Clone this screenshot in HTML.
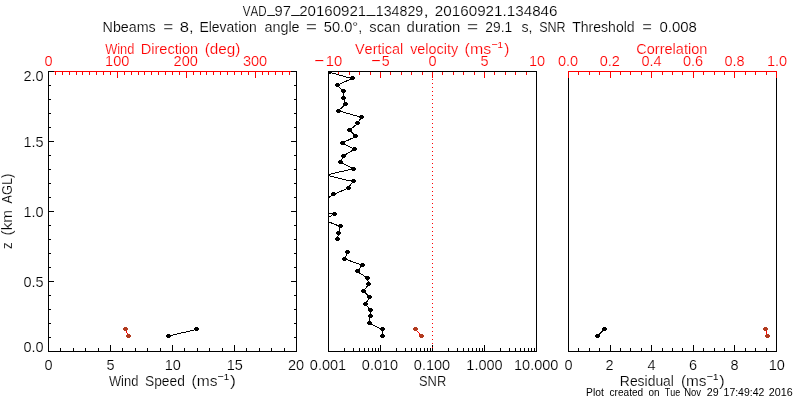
<!DOCTYPE html>
<html lang="en"><head><meta charset="utf-8"><title>VAD_97_20160921_134829</title>
<style>
html,body{margin:0;padding:0;background:#fff;}
body{width:800px;height:400px;overflow:hidden;}
svg{display:block;}
text{font-family:"Liberation Sans",sans-serif;font-size:14.5px;font-kerning:none;white-space:pre;stroke:#fff;stroke-width:0.18px;}
.k{fill:#000;} .r{fill:#f00;}
.s{font-size:10.2px;stroke:none;} .u{font-size:9.8px;stroke:none;}
.ln{shape-rendering:crispEdges;fill:none;stroke-width:1;}
.px{shape-rendering:crispEdges;}
</style></head><body>
<svg width="800" height="400" viewBox="0 0 800 400">
<rect x="0" y="0" width="800" height="400" fill="#fff"/>
<path class="px" fill="#000000" d="M48 351h249v1h-249zM48 71h1v281h-1zM296 71h1v281h-1zM48 71h249v1h-249zM48 345h1v7h-1zM60 348h1v4h-1zM73 348h1v4h-1zM85 348h1v4h-1zM98 348h1v4h-1zM110 345h1v7h-1zM122 348h1v4h-1zM135 348h1v4h-1zM147 348h1v4h-1zM160 348h1v4h-1zM172 345h1v7h-1zM184 348h1v4h-1zM197 348h1v4h-1zM209 348h1v4h-1zM222 348h1v4h-1zM234 345h1v7h-1zM246 348h1v4h-1zM259 348h1v4h-1zM271 348h1v4h-1zM284 348h1v4h-1zM296 345h1v7h-1z"/>
<path class="px" fill="#ff0000" d="M48 71h249v1h-249zM48 71h1v7h-1zM55 71h1v4h-1zM62 71h1v4h-1zM69 71h1v4h-1zM76 71h1v4h-1zM82 71h1v4h-1zM89 71h1v4h-1zM96 71h1v4h-1zM103 71h1v4h-1zM110 71h1v4h-1zM117 71h1v7h-1zM124 71h1v4h-1zM131 71h1v4h-1zM138 71h1v4h-1zM144 71h1v4h-1zM151 71h1v4h-1zM158 71h1v4h-1zM165 71h1v4h-1zM172 71h1v4h-1zM179 71h1v4h-1zM186 71h1v7h-1zM193 71h1v4h-1zM200 71h1v4h-1zM206 71h1v4h-1zM213 71h1v4h-1zM220 71h1v4h-1zM227 71h1v4h-1zM234 71h1v4h-1zM241 71h1v4h-1zM248 71h1v4h-1zM255 71h1v7h-1zM262 71h1v4h-1zM268 71h1v4h-1zM275 71h1v4h-1zM282 71h1v4h-1zM289 71h1v4h-1zM296 71h1v4h-1z"/>
<path class="px" fill="#000000" d="M48 351h6v1h-6zM291 351h6v1h-6zM48 337h3v1h-3zM294 337h3v1h-3zM48 323h3v1h-3zM294 323h3v1h-3zM48 309h3v1h-3zM294 309h3v1h-3zM48 295h3v1h-3zM294 295h3v1h-3zM48 281h6v1h-6zM291 281h6v1h-6zM48 267h3v1h-3zM294 267h3v1h-3zM48 253h3v1h-3zM294 253h3v1h-3zM48 239h3v1h-3zM294 239h3v1h-3zM48 225h3v1h-3zM294 225h3v1h-3zM48 211h6v1h-6zM291 211h6v1h-6zM48 197h3v1h-3zM294 197h3v1h-3zM48 183h3v1h-3zM294 183h3v1h-3zM48 169h3v1h-3zM294 169h3v1h-3zM48 155h3v1h-3zM294 155h3v1h-3zM48 141h6v1h-6zM291 141h6v1h-6zM48 127h3v1h-3zM294 127h3v1h-3zM48 113h3v1h-3zM294 113h3v1h-3zM48 99h3v1h-3zM294 99h3v1h-3zM48 85h3v1h-3zM294 85h3v1h-3zM48 71h6v1h-6zM291 71h6v1h-6zM48 71h1v281h-1zM296 71h1v281h-1z"/>
<path class="px" fill="#ff0000" d="M328 71h1v7h-1zM338 71h1v4h-1zM349 71h1v4h-1zM359 71h1v4h-1zM370 71h1v4h-1zM380 71h1v7h-1zM390 71h1v4h-1zM401 71h1v4h-1zM411 71h1v4h-1zM422 71h1v4h-1zM432 71h1v7h-1zM442 71h1v4h-1zM453 71h1v4h-1zM463 71h1v4h-1zM474 71h1v4h-1zM484 71h1v7h-1zM494 71h1v4h-1zM505 71h1v4h-1zM515 71h1v4h-1zM526 71h1v4h-1zM536 71h1v7h-1z"/>
<path class="px" fill="#000000" d="M328 351h209v1h-209zM328 71h1v281h-1zM536 71h1v281h-1zM328 71h209v1h-209zM328 345h1v7h-1zM344 348h1v4h-1zM353 348h1v4h-1zM359 348h1v4h-1zM364 348h1v4h-1zM368 348h1v4h-1zM372 348h1v4h-1zM375 348h1v4h-1zM378 348h1v4h-1zM380 345h1v7h-1zM396 348h1v4h-1zM405 348h1v4h-1zM411 348h1v4h-1zM416 348h1v4h-1zM420 348h1v4h-1zM424 348h1v4h-1zM427 348h1v4h-1zM430 348h1v4h-1zM432 345h1v7h-1zM448 348h1v4h-1zM457 348h1v4h-1zM463 348h1v4h-1zM468 348h1v4h-1zM472 348h1v4h-1zM476 348h1v4h-1zM479 348h1v4h-1zM482 348h1v4h-1zM484 345h1v7h-1zM500 348h1v4h-1zM509 348h1v4h-1zM515 348h1v4h-1zM520 348h1v4h-1zM524 348h1v4h-1zM528 348h1v4h-1zM531 348h1v4h-1zM534 348h1v4h-1zM536 345h1v7h-1z"/>
<path class="px" fill="#ff0000" d="M432 79h1v1h-1zM432 83h1v1h-1zM432 87h1v1h-1zM432 91h1v1h-1zM432 95h1v1h-1zM432 99h1v1h-1zM432 103h1v1h-1zM432 107h1v1h-1zM432 111h1v1h-1zM432 115h1v1h-1zM432 119h1v1h-1zM432 123h1v1h-1zM432 127h1v1h-1zM432 131h1v1h-1zM432 135h1v1h-1zM432 139h1v1h-1zM432 143h1v1h-1zM432 147h1v1h-1zM432 151h1v1h-1zM432 155h1v1h-1zM432 159h1v1h-1zM432 163h1v1h-1zM432 167h1v1h-1zM432 171h1v1h-1zM432 175h1v1h-1zM432 179h1v1h-1zM432 183h1v1h-1zM432 187h1v1h-1zM432 191h1v1h-1zM432 195h1v1h-1zM432 199h1v1h-1zM432 203h1v1h-1zM432 207h1v1h-1zM432 211h1v1h-1zM432 215h1v1h-1zM432 219h1v1h-1zM432 223h1v1h-1zM432 227h1v1h-1zM432 231h1v1h-1zM432 235h1v1h-1zM432 239h1v1h-1zM432 243h1v1h-1zM432 247h1v1h-1zM432 251h1v1h-1zM432 255h1v1h-1zM432 259h1v1h-1zM432 263h1v1h-1zM432 267h1v1h-1zM432 271h1v1h-1zM432 275h1v1h-1zM432 279h1v1h-1zM432 283h1v1h-1zM432 287h1v1h-1zM432 291h1v1h-1zM432 295h1v1h-1zM432 299h1v1h-1zM432 303h1v1h-1zM432 307h1v1h-1zM432 311h1v1h-1zM432 315h1v1h-1zM432 319h1v1h-1zM432 323h1v1h-1zM432 327h1v1h-1zM432 331h1v1h-1zM432 335h1v1h-1zM432 339h1v1h-1zM432 343h1v1h-1zM432 347h1v1h-1z"/>
<path class="px" fill="#000000" d="M568 351h209v1h-209zM568 71h1v281h-1zM776 71h1v281h-1zM568 345h1v7h-1zM578 348h1v4h-1zM589 348h1v4h-1zM599 348h1v4h-1zM610 345h1v7h-1zM620 348h1v4h-1zM630 348h1v4h-1zM641 348h1v4h-1zM651 345h1v7h-1zM662 348h1v4h-1zM672 348h1v4h-1zM682 348h1v4h-1zM693 345h1v7h-1zM703 348h1v4h-1zM714 348h1v4h-1zM724 348h1v4h-1zM734 345h1v7h-1zM745 348h1v4h-1zM755 348h1v4h-1zM766 348h1v4h-1zM776 345h1v7h-1z"/>
<path class="px" fill="#ff0000" d="M568 71h209v1h-209zM568 71h1v7h-1zM578 71h1v4h-1zM589 71h1v4h-1zM599 71h1v4h-1zM610 71h1v7h-1zM620 71h1v4h-1zM630 71h1v4h-1zM641 71h1v4h-1zM651 71h1v7h-1zM662 71h1v4h-1zM672 71h1v4h-1zM682 71h1v4h-1zM693 71h1v7h-1zM703 71h1v4h-1zM714 71h1v4h-1zM724 71h1v4h-1zM734 71h1v7h-1zM745 71h1v4h-1zM755 71h1v4h-1zM766 71h1v4h-1zM776 71h1v7h-1z"/>
<defs><clipPath id="c2"><rect x="328" y="71" width="209" height="281"/></clipPath></defs>
<polyline class="ln" points="168.75,336 196.25,329.5" stroke="#000000"/>
<path class="px" fill="#000000" d="M167 334h3v1h1v2h-1v1h-3v-1h-1v-2h1zM195 327h3v1h1v2h-1v1h-3v-1h-1v-2h1z"/>
<polyline class="ln" points="125.6,329.5 128.5,336" stroke="#ff0000"/>
<polyline class="ln" points="597.8,336 604,329.5" stroke="#000000"/>
<path class="px" fill="#000000" d="M596 334h3v1h1v2h-1v1h-3v-1h-1v-2h1zM603 327h3v1h1v2h-1v1h-3v-1h-1v-2h1z"/>
<polyline class="ln" points="765.5,329.5 767.5,336" stroke="#ff0000"/>
<polyline class="ln" points="415.5,329.5 421.5,336" stroke="#ff0000"/>
<path class="px" fill="#b23a1e" d="M124 327h3v1h1v2h-1v1h-3v-1h-1v-2h1zM127 334h3v1h1v2h-1v1h-3v-1h-1v-2h1zM764 327h3v1h1v2h-1v1h-3v-1h-1v-2h1zM766 334h3v1h1v2h-1v1h-3v-1h-1v-2h1zM414 327h3v1h1v2h-1v1h-3v-1h-1v-2h1zM420 334h3v1h1v2h-1v1h-3v-1h-1v-2h1z"/>
<g clip-path="url(#c2)">
<polyline class="ln" points="382.5,336 382.5,329.566 369.5,323.132 370.2,316.698 370.5,310.264 365.5,303.83 369.5,297.396 363.7,290.962 368.5,284.528 367.5,278.094 357.5,271.66 362,265.226 344.5,258.792 347.8,252.358" stroke="#000000"/>
<polyline class="ln" points="337,239.49 338.7,233.056 340.5,226.622 324.5,220.188 334,213.754 180,207.32" stroke="#000000"/>
<polyline class="ln" points="323.5,200.886 333.5,194.452 348.3,188.018 353,181.584 326,175.15 353.5,168.716 340.3,162.282 343.5,155.848 354.3,149.414 342.2,142.98 355.8,136.546 349.5,130.112 357.5,123.678 361.3,117.244 338.3,110.81 345.5,104.376 343.5,97.942 343.5,91.508 337.2,85.074 352,78.64 329.5,72.206" stroke="#000000"/>
<path class="px" fill="#000000" d="M381 334h3v1h1v2h-1v1h-3v-1h-1v-2h1zM381 327h3v1h1v2h-1v1h-3v-1h-1v-2h1zM368 321h3v1h1v2h-1v1h-3v-1h-1v-2h1zM369 314h3v1h1v2h-1v1h-3v-1h-1v-2h1zM369 308h3v1h1v2h-1v1h-3v-1h-1v-2h1zM364 302h3v1h1v2h-1v1h-3v-1h-1v-2h1zM368 295h3v1h1v2h-1v1h-3v-1h-1v-2h1zM362 289h3v1h1v2h-1v1h-3v-1h-1v-2h1zM367 282h3v1h1v2h-1v1h-3v-1h-1v-2h1zM366 276h3v1h1v2h-1v1h-3v-1h-1v-2h1zM356 269h3v1h1v2h-1v1h-3v-1h-1v-2h1zM361 263h3v1h1v2h-1v1h-3v-1h-1v-2h1zM343 257h3v1h1v2h-1v1h-3v-1h-1v-2h1zM346 250h3v1h1v2h-1v1h-3v-1h-1v-2h1zM336 237h3v1h1v2h-1v1h-3v-1h-1v-2h1zM337 231h3v1h1v2h-1v1h-3v-1h-1v-2h1zM339 224h3v1h1v2h-1v1h-3v-1h-1v-2h1zM323 218h3v1h1v2h-1v1h-3v-1h-1v-2h1zM333 212h3v1h1v2h-1v1h-3v-1h-1v-2h1zM179 205h3v1h1v2h-1v1h-3v-1h-1v-2h1zM322 199h3v1h1v2h-1v1h-3v-1h-1v-2h1zM332 192h3v1h1v2h-1v1h-3v-1h-1v-2h1zM347 186h3v1h1v2h-1v1h-3v-1h-1v-2h1zM352 179h3v1h1v2h-1v1h-3v-1h-1v-2h1zM325 173h3v1h1v2h-1v1h-3v-1h-1v-2h1zM352 167h3v1h1v2h-1v1h-3v-1h-1v-2h1zM339 160h3v1h1v2h-1v1h-3v-1h-1v-2h1zM342 154h3v1h1v2h-1v1h-3v-1h-1v-2h1zM353 147h3v1h1v2h-1v1h-3v-1h-1v-2h1zM341 141h3v1h1v2h-1v1h-3v-1h-1v-2h1zM354 134h3v1h1v2h-1v1h-3v-1h-1v-2h1zM348 128h3v1h1v2h-1v1h-3v-1h-1v-2h1zM356 121h3v1h1v2h-1v1h-3v-1h-1v-2h1zM360 115h3v1h1v2h-1v1h-3v-1h-1v-2h1zM337 109h3v1h1v2h-1v1h-3v-1h-1v-2h1zM344 102h3v1h1v2h-1v1h-3v-1h-1v-2h1zM342 96h3v1h1v2h-1v1h-3v-1h-1v-2h1zM342 89h3v1h1v2h-1v1h-3v-1h-1v-2h1zM336 83h3v1h1v2h-1v1h-3v-1h-1v-2h1zM351 76h3v1h1v2h-1v1h-3v-1h-1v-2h1zM328 70h3v1h1v2h-1v1h-3v-1h-1v-2h1z"/>
</g>
<path class="px" fill="#000000" d="M328 71h1v281h-1zM328 71h209v1h-209z"/>
<text class="k"><tspan x="242.75" y="16" textLength="23.80" lengthAdjust="spacingAndGlyphs">VAD</tspan><tspan x="267.21" y="13.1" textLength="7.64" lengthAdjust="spacingAndGlyphs">_</tspan><tspan x="274.61" y="16" textLength="16.44" lengthAdjust="spacingAndGlyphs">97</tspan><tspan x="291.35" y="13.1" textLength="9.07" lengthAdjust="spacingAndGlyphs">_</tspan><tspan x="299.24" y="16" textLength="66.99" lengthAdjust="spacingAndGlyphs">20160921</tspan><tspan x="366.49" y="13.1" textLength="8.93" lengthAdjust="spacingAndGlyphs">_</tspan><tspan x="375.82" y="16" textLength="47.35" lengthAdjust="spacingAndGlyphs">134829</tspan><tspan x="423.17" y="16" textLength="5.66" lengthAdjust="spacingAndGlyphs">,</tspan> <tspan x="434.83" y="16" textLength="122.73" lengthAdjust="spacingAndGlyphs">20160921.134846</tspan></text>
<text class="k"><tspan x="102.58" y="32" textLength="53.19" lengthAdjust="spacingAndGlyphs">Nbeams</tspan> <tspan x="163.17" y="32" textLength="9.92" lengthAdjust="spacingAndGlyphs">=</tspan> <tspan x="179.88" y="32" textLength="13.87" lengthAdjust="spacingAndGlyphs">8,</tspan> <tspan x="199.45" y="32" textLength="57.45" lengthAdjust="spacingAndGlyphs">Elevation</tspan> <tspan x="264.39" y="32" textLength="35.25" lengthAdjust="spacingAndGlyphs">angle</tspan> <tspan x="305.99" y="32" textLength="10.94" lengthAdjust="spacingAndGlyphs">=</tspan> <tspan x="323.81" y="32" textLength="38.51" lengthAdjust="spacingAndGlyphs">50.0°,</tspan> <tspan x="369.34" y="32" textLength="31.01" lengthAdjust="spacingAndGlyphs">scan</tspan> <tspan x="406.63" y="32" textLength="53.74" lengthAdjust="spacingAndGlyphs">duration</tspan> <tspan x="467.07" y="32" textLength="11.12" lengthAdjust="spacingAndGlyphs">=</tspan> <tspan x="485.31" y="32" textLength="26.87" lengthAdjust="spacingAndGlyphs">29.1</tspan> <tspan x="521.51" y="32" textLength="11.02" lengthAdjust="spacingAndGlyphs">s,</tspan> <tspan x="539.18" y="32" textLength="26.40" lengthAdjust="spacingAndGlyphs">SNR</tspan> <tspan x="572.18" y="32" textLength="62.47" lengthAdjust="spacingAndGlyphs">Threshold</tspan> <tspan x="642.20" y="32" textLength="9.62" lengthAdjust="spacingAndGlyphs">=</tspan> <tspan x="659.41" y="32" textLength="37.49" lengthAdjust="spacingAndGlyphs">0.008</tspan></text>
<text class="k" x="33.6" y="352" text-anchor="middle">0.0</text>
<text class="k" x="33.6" y="287" text-anchor="middle">0.5</text>
<text class="k" x="33.6" y="217" text-anchor="middle">1.0</text>
<text class="k" x="33.6" y="147" text-anchor="middle">1.5</text>
<text class="k" x="33.6" y="80.5" text-anchor="middle">2.0</text>
<g transform="translate(12,248.5) rotate(-90)">
<text class="k"><tspan x="-0.54" y="0" textLength="6.71" lengthAdjust="spacingAndGlyphs">z</tspan> <tspan x="13.05" y="0" textLength="25.45" lengthAdjust="spacingAndGlyphs">(km</tspan> <tspan x="44.98" y="0" textLength="29.82" lengthAdjust="spacingAndGlyphs">AGL)</tspan></text>
</g>
<text class="k" x="48.5" y="370" text-anchor="middle">0</text>
<text class="k" x="110.5" y="370" text-anchor="middle">5</text>
<text class="k" x="172.7" y="370" text-anchor="middle">10</text>
<text class="k" x="234.7" y="370" text-anchor="middle">15</text>
<text class="k" x="296" y="370" text-anchor="middle">20</text>
<text class="r" x="48.5" y="66" text-anchor="middle">0</text>
<text class="r" x="117.2" y="66" text-anchor="middle">100</text>
<text class="r" x="185.7" y="66" text-anchor="middle">200</text>
<text class="r" x="255" y="66" text-anchor="middle">300</text>
<text class="r"><tspan x="105.19" y="54" textLength="29.13" lengthAdjust="spacingAndGlyphs">Wind</tspan> <tspan x="140.70" y="54" textLength="57.49" lengthAdjust="spacingAndGlyphs">Direction</tspan> <tspan x="204.65" y="54" textLength="35.70" lengthAdjust="spacingAndGlyphs">(deg)</tspan></text>
<text class="k"><tspan x="108.94" y="386" textLength="29.39" lengthAdjust="spacingAndGlyphs">Wind</tspan> <tspan x="144.97" y="386" textLength="39.92" lengthAdjust="spacingAndGlyphs">Speed</tspan> <tspan x="191.53" y="386" textLength="25.93" lengthAdjust="spacingAndGlyphs">(ms</tspan><tspan x="217.04" y="379" class="u" textLength="7.23" lengthAdjust="spacingAndGlyphs">-</tspan><tspan x="223.66" y="380" class="u" textLength="5.42" lengthAdjust="spacingAndGlyphs">1</tspan><tspan x="229.90" y="386" textLength="5.97" lengthAdjust="spacingAndGlyphs">)</tspan></text>
<text class="r" x="432.5" y="66" text-anchor="middle">0</text>
<text class="r" x="484.5" y="66" text-anchor="middle">5</text>
<text class="r" x="537" y="66" text-anchor="middle">10</text>
<text class="r"><tspan x="313.45" y="65.4" textLength="11.59" lengthAdjust="spacingAndGlyphs">-</tspan><tspan x="325.67" y="66" textLength="16.51" lengthAdjust="spacingAndGlyphs">10</tspan></text>
<text class="r"><tspan x="370.43" y="65.4" textLength="11.05" lengthAdjust="spacingAndGlyphs">-</tspan><tspan x="381.68" y="66" textLength="7.92" lengthAdjust="spacingAndGlyphs">5</tspan></text>
<text class="r"><tspan x="354.94" y="54" textLength="48.28" lengthAdjust="spacingAndGlyphs">Vertical</tspan> <tspan x="410.20" y="54" textLength="47.93" lengthAdjust="spacingAndGlyphs">velocity</tspan> <tspan x="464.61" y="54" textLength="26.56" lengthAdjust="spacingAndGlyphs">(ms</tspan><tspan x="490.94" y="47" class="u" textLength="7.23" lengthAdjust="spacingAndGlyphs">-</tspan><tspan x="497.56" y="48" class="u" textLength="5.42" lengthAdjust="spacingAndGlyphs">1</tspan><tspan x="504.31" y="54" textLength="5.15" lengthAdjust="spacingAndGlyphs">)</tspan></text>
<text class="k" x="328" y="370" text-anchor="middle">0.001</text>
<text class="k" x="380" y="370" text-anchor="middle">0.010</text>
<text class="k" x="432" y="370" text-anchor="middle">0.100</text>
<text class="k" x="484.5" y="370" text-anchor="middle">1.000</text>
<text class="k" x="536.2" y="370" text-anchor="middle">10.000</text>
<text class="k"><tspan x="419.02" y="386" textLength="27.18" lengthAdjust="spacingAndGlyphs">SNR</tspan></text>
<text class="r" x="568" y="66" text-anchor="middle">0.0</text>
<text class="r" x="609.8" y="66" text-anchor="middle">0.2</text>
<text class="r" x="651.5" y="66" text-anchor="middle">0.4</text>
<text class="r" x="693" y="66" text-anchor="middle">0.6</text>
<text class="r" x="734.5" y="66" text-anchor="middle">0.8</text>
<text class="r" x="777" y="66" text-anchor="middle">1.0</text>
<text class="r"><tspan x="636.26" y="54" textLength="71.08" lengthAdjust="spacingAndGlyphs">Correlation</tspan></text>
<text class="k" x="568.5" y="370" text-anchor="middle">0</text>
<text class="k" x="609.5" y="370" text-anchor="middle">2</text>
<text class="k" x="651.5" y="370" text-anchor="middle">4</text>
<text class="k" x="693" y="370" text-anchor="middle">6</text>
<text class="k" x="734.5" y="370" text-anchor="middle">8</text>
<text class="k" x="776.8" y="370" text-anchor="middle">10</text>
<text class="k"><tspan x="619.86" y="386" textLength="54.07" lengthAdjust="spacingAndGlyphs">Residual</tspan> <tspan x="680.95" y="386" textLength="25.61" lengthAdjust="spacingAndGlyphs">(ms</tspan><tspan x="706.29" y="379" class="u" textLength="7.23" lengthAdjust="spacingAndGlyphs">-</tspan><tspan x="712.91" y="380" class="u" textLength="5.42" lengthAdjust="spacingAndGlyphs">1</tspan><tspan x="719.30" y="386" textLength="5.46" lengthAdjust="spacingAndGlyphs">)</tspan></text>
<text class="k s"><tspan x="586.05" y="396" textLength="17.77" lengthAdjust="spacingAndGlyphs">Plot</tspan> <tspan x="609.57" y="396" textLength="33.58" lengthAdjust="spacingAndGlyphs">created</tspan> <tspan x="648.58" y="396" textLength="11.06" lengthAdjust="spacingAndGlyphs">on</tspan> <tspan x="664.80" y="396" textLength="15.35" lengthAdjust="spacingAndGlyphs">Tue</tspan> <tspan x="684.22" y="396" textLength="16.81" lengthAdjust="spacingAndGlyphs">Nov</tspan> <tspan x="706.71" y="396" textLength="11.89" lengthAdjust="spacingAndGlyphs">29</tspan> <tspan x="723.60" y="396" textLength="40.67" lengthAdjust="spacingAndGlyphs">17:49:42</tspan> <tspan x="768.86" y="396" textLength="23.86" lengthAdjust="spacingAndGlyphs">2016</tspan></text>
</svg></body></html>
